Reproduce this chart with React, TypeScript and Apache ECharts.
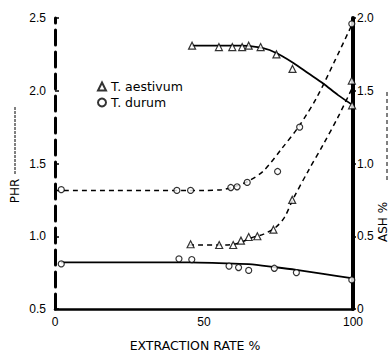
import React, { useEffect, useRef } from "react";
import * as echarts from "echarts";

// Measured points (extraction rate %, value)
const aestivumX = [46, 55, 59.5, 62.8, 65, 69, 74.3, 79.7, 99.7];
const aestivumPHR = [2.31, 2.3, 2.3, 2.3, 2.31, 2.3, 2.25, 2.15, 1.9];
const durumX = [2.1, 41.6, 45.9, 58.4, 61.6, 65, 73.6, 81, 99.6];
const durumPHR = [0.81, 0.845, 0.84, 0.795, 0.785, 0.765, 0.78, 0.75, 0.7];

const aestivumAshX = [45.5, 55.1, 59.8, 62.4, 65, 67.9, 73.3, 79.6, 99.6];
const aestivumAsh = [0.445, 0.44, 0.44, 0.47, 0.495, 0.5, 0.545, 0.75, 1.57];
const durumAshX = [2.1, 40.9, 45.5, 59, 61.1, 64.5, 74.7, 82.1, 99.6];
const durumAsh = [0.82, 0.815, 0.815, 0.835, 0.84, 0.87, 0.945, 1.25, 1.96];

// Fitted curves as drawn
const fitPhrAestivumX = [46, 55, 62, 68, 72, 76, 80, 85, 90, 95, 100];
const fitPhrAestivum = [2.31, 2.31, 2.31, 2.3, 2.28, 2.24, 2.19, 2.12, 2.05, 1.97, 1.9];
const fitPhrDurumX = [2, 30, 45, 55, 65, 74, 81, 90, 100];
const fitPhrDurum = [0.82, 0.82, 0.82, 0.815, 0.808, 0.787, 0.769, 0.742, 0.71];
const fitAshAestivumX = [45, 58, 62, 66, 70, 74, 77, 80, 85, 90, 95, 100];
const fitAshAestivum = [0.44, 0.44, 0.455, 0.49, 0.515, 0.56, 0.63, 0.76, 0.95, 1.13, 1.32, 1.53];
const fitAshDurumX = [0, 50, 56, 60, 65, 70, 76, 82, 88, 94, 100];
const fitAshDurum = [0.815, 0.815, 0.82, 0.84, 0.88, 0.95, 1.1, 1.26, 1.46, 1.71, 1.97];

const xTicks = { min: 0, max: 100, interval: 50 };
const phrTicks = { min: 0.5, max: 2.5, interval: 0.5 };
const ashTicks = { min: 0, max: 2.0, interval: 0.5 };

const pairs = (xs: number[], ys: number[]) => xs.map((x, i) => [x, ys[i]]);

export default function App() {
  const ref = useRef<HTMLDivElement>(null);
  useEffect(() => {
    if (!ref.current) return;
    const chart = echarts.init(ref.current, null, { renderer: "svg" });
    const font = "Liberation Sans, Arial, sans-serif";
    const wide = "DejaVu Sans, sans-serif";
    const markerStyle = { color: "#fff", borderColor: "#000", borderWidth: 1.2 };
    chart.setOption({
      animation: false,
      backgroundColor: "#fff",
      textStyle: { fontFamily: font, color: "#000" },
      grid: { left: 55, right: 39, top: 18, bottom: 44 },
      legend: {
        data: ["T. aestivum", "T. durum"],
        orient: "vertical",
        left: 92,
        top: 75,
        itemWidth: 8,
        itemHeight: 8,
        itemGap: 3,
        textStyle: { fontSize: 12.5, color: "#000", fontFamily: wide },
      },
      xAxis: {
        type: "value",
        ...xTicks,
        axisLine: { show: true, lineStyle: { color: "#000", width: 2.5 } },
        axisTick: { show: false },
        splitLine: { show: false },
        axisLabel: { fontSize: 12, lineHeight: 12, color: "#000", margin: 7 },
        name: "EXTRACTION RATE %",
        nameLocation: "middle",
        nameGap: 30,
        nameTextStyle: { fontSize: 12.5, color: "#000", fontFamily: wide, padding: [0, 18, 0, 0] },
      },
      yAxis: [
        {
          type: "value",
          position: "left",
          ...phrTicks,
          axisLine: { show: true, lineStyle: { color: "#000", width: 3, type: [15, 7] } },
          axisTick: { show: true, inside: true, length: 4, lineStyle: { color: "#000", width: 1.5 } },
          splitLine: { show: false },
          axisLabel: { fontSize: 12, lineHeight: 12, color: "#000", margin: 9, formatter: (v: number) => v.toFixed(1) },
        },
        {
          type: "value",
          position: "right",
          ...ashTicks,
          axisLine: { show: true, lineStyle: { color: "#000", width: 4 } },
          axisTick: { show: true, length: 3, lineStyle: { color: "#000", width: 1.5 } },
          splitLine: { show: false },
          axisLabel: {
            fontSize: 12,
            lineHeight: 12,
            color: "#000",
            margin: 4,
            formatter: (v: number) => (v === 0 ? "0" : v.toFixed(1)),
          },
        },
      ],
      graphic: [
        {
          type: "text",
          x: 15,
          y: 191,
          rotation: Math.PI / 2,
          style: { text: "PHR", fontSize: 12, fontFamily: wide, fill: "#000", align: "center", verticalAlign: "middle" },
        },
        {
          type: "line",
          shape: { x1: 15, y1: 107, x2: 15, y2: 175 },
          style: { stroke: "#000", lineWidth: 1, lineDash: [3, 1] },
        },
        {
          type: "text",
          x: 383,
          y: 222,
          rotation: Math.PI / 2,
          style: { text: "ASH %", fontSize: 12, fontFamily: wide, fill: "#000", align: "center", verticalAlign: "middle" },
        },
        {
          type: "line",
          shape: { x1: 387, y1: 92, x2: 387, y2: 182 },
          style: { stroke: "#000", lineWidth: 1, lineDash: [4, 3] },
        },
      ],
      series: [
        {
          name: "PHR fit aestivum",
          type: "line",
          yAxisIndex: 0,
          data: pairs(fitPhrAestivumX, fitPhrAestivum),
          symbol: "none",
          smooth: 0.3,
          lineStyle: { color: "#000", width: 1.8 },
          z: 2,
        },
        {
          name: "PHR fit durum",
          type: "line",
          yAxisIndex: 0,
          data: pairs(fitPhrDurumX, fitPhrDurum),
          symbol: "none",
          smooth: 0.3,
          lineStyle: { color: "#000", width: 1.8 },
          z: 2,
        },
        {
          name: "ASH fit aestivum",
          type: "line",
          yAxisIndex: 1,
          data: pairs(fitAshAestivumX, fitAshAestivum),
          symbol: "none",
          smooth: 0.3,
          lineStyle: { color: "#000", width: 1.5, type: [5, 4] },
          z: 2,
        },
        {
          name: "ASH fit durum",
          type: "line",
          yAxisIndex: 1,
          data: pairs(fitAshDurumX, fitAshDurum),
          symbol: "none",
          smooth: 0.3,
          lineStyle: { color: "#000", width: 1.5, type: [5, 4] },
          z: 2,
        },
        {
          name: "T. aestivum",
          type: "scatter",
          yAxisIndex: 0,
          data: pairs(aestivumX, aestivumPHR),
          symbol: "triangle",
          symbolSize: 7,
          itemStyle: markerStyle,
          z: 3,
        },
        {
          name: "T. durum",
          type: "scatter",
          yAxisIndex: 0,
          data: pairs(durumX, durumPHR),
          symbol: "circle",
          symbolSize: 6,
          itemStyle: markerStyle,
          z: 3,
        },
        {
          name: "T. aestivum",
          type: "scatter",
          yAxisIndex: 1,
          data: pairs(aestivumAshX, aestivumAsh),
          symbol: "triangle",
          symbolSize: 7,
          itemStyle: markerStyle,
          z: 3,
        },
        {
          name: "T. durum",
          type: "scatter",
          yAxisIndex: 1,
          data: pairs(durumAshX, durumAsh),
          symbol: "circle",
          symbolSize: 6,
          itemStyle: markerStyle,
          z: 3,
        },
      ],
    });
    return () => chart.dispose();
  }, []);
  return (
    <div
      ref={ref}
      style={{ position: "fixed", left: 0, top: 0, width: 392, height: 357, background: "#fff" }}
    />
  );
}
